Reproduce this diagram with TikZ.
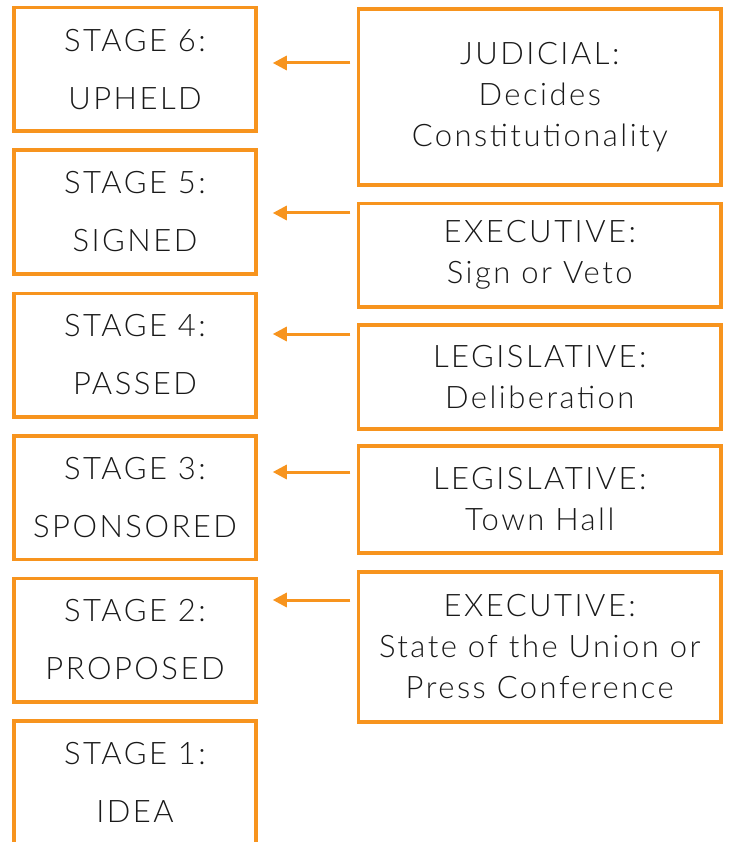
\documentclass[tikz,border=0pt]{standalone}
\usepackage{fontspec}
\setmainfont{Lato}[UprightFont=* Light, LetterSpace=8]
\definecolor{stageorange}{HTML}{F7941E}
\usetikzlibrary{arrows.meta}
\tikzset{
    stagebox/.style={draw=stageorange,line width=3.5pt,minimum width=242pt,minimum height=123.5pt,
        inner sep=0pt,align=center,text=black!90,font=\fontsize{31}{58}\selectfont},
    branchbox/.style={draw=stageorange,line width=3.5pt,minimum width=362.5pt,
        inner sep=0pt,align=center,text=black!90,font=\fontsize{31}{41}\selectfont},
    arr/.style={draw=stageorange,line width=3pt,-{Triangle[length=14pt,width=14pt]}},
}
\begin{document}
\begin{tikzpicture}[x=1pt,y=-1pt]
            \useasboundingbox (0,0) rectangle (729,842);
            % stages of a bill
            \node[stagebox] (S6) at (135,69.3){STAGE 6:\\UPHELD};
            \node[stagebox] (S5) at (135,212){STAGE 5:\\SIGNED};
            \node[stagebox] (S4) at (135,355){STAGE 4:\\PASSED};
            \node[stagebox] (S3) at (135,497.5){STAGE 3:\\SPONSORED};
            \node[stagebox] (S2) at (135,640){STAGE 2:\\PROPOSED};
            \node[stagebox] (S1) at (135,782.5){STAGE 1:\\IDEA};
            % branches
            \node[branchbox,minimum height=176pt] (J) at (539.75,97){JUDICIAL:\\Decides\\Constitutionality};
            \node[branchbox,minimum height=103.5pt] (E) at (539.75,255.25){EXECUTIVE:\\Sign or Veto};
            \node[branchbox,minimum height=104pt] (L) at (539.75,377){LEGISLATIVE:\\Deliberation};
            \node[branchbox,minimum height=107pt] (T) at (539.75,499.5){LEGISLATIVE:\\Town Hall};
            \node[branchbox,minimum height=150pt] (P) at (539.75,647){EXECUTIVE:\\State of the Union or\\Press Conference};
            \draw[arr] ([xshift=-6.5pt]J.west |- 0,63)--([xshift=15pt]S6.east |- 0,63);
            \draw[arr] ([xshift=-6.5pt]E.west |- 0,213)--([xshift=15pt]S5.east |- 0,213);
            \draw[arr] ([xshift=-6.5pt]L.west |- 0,334)--([xshift=15pt]S4.east |- 0,334);
            \draw[arr] ([xshift=-6.5pt]T.west |- 0,472)--([xshift=15pt]S3.east |- 0,472);
            \draw[arr] ([xshift=-6.5pt]P.west |- 0,600)--([xshift=15pt]S2.east |- 0,600);
        \end{tikzpicture}
\end{document}
